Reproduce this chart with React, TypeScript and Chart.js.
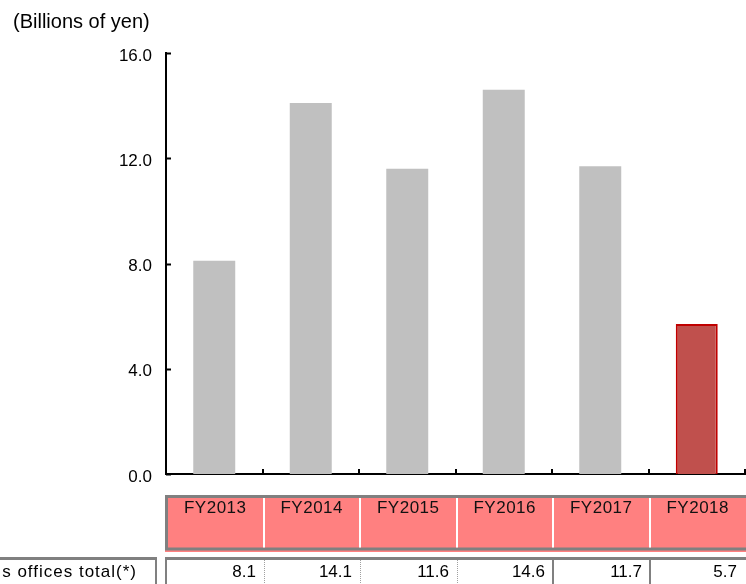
import React, { useEffect, useRef } from "react";
import { Chart, registerables } from "chart.js";

Chart.register(...registerables);

const categories = ["FY2013", "FY2014", "FY2015", "FY2016", "FY2017", "FY2018"];
const values = [8.1, 14.1, 11.6, 14.6, 11.7, 5.7];
const yMin = 0;
const yMax = 16;
const yStep = 4;
const unitLabel = "(Billions of yen)";
const rowLabel = "s offices total(*)";
const highlightIndex = 5;

const FONT = "'Liberation Sans', Arial, sans-serif";
const GREY = "#808080";
const PINK = "#FF8080";

const tablePlugin = {
  id: "tablePlugin",
  afterDraw(chart: any) {
    const { ctx } = chart;
    const x = chart.scales.x;
    const y = chart.scales.y;
    const n = categories.length;
    const w = x.getPixelForTick(1) - x.getPixelForTick(0);
    const bound = (i: number) => x.getPixelForTick(i) + w / 2;
    const W = chart.width;
    const left = x.left - 1;

    ctx.save();

    // unit title
    ctx.fillStyle = "#000";
    ctx.font = `20px ${FONT}`;
    ctx.textAlign = "left";
    ctx.textBaseline = "middle";
    ctx.fillText(unitLabel, 13, 22);

    // inner ticks
    ctx.strokeStyle = "#000";
    ctx.lineWidth = 2;
    y.ticks.forEach((t: any) => {
      const py = Math.round(y.getPixelForValue(t.value)) + 0.5;
      ctx.beginPath();
      ctx.moveTo(x.left, py);
      ctx.lineTo(x.left + 5, py);
      ctx.stroke();
    });
    for (let i = 0; i < n; i++) {
      const px = Math.round(bound(i));
      ctx.beginPath();
      ctx.moveTo(px, y.bottom);
      ctx.lineTo(px, y.bottom - 5);
      ctx.stroke();
    }

    // header row
    const hTop = 495;
    const hBot = 552;
    ctx.fillStyle = PINK;
    ctx.fillRect(left, hTop, W - left, hBot - hTop);
    ctx.strokeStyle = GREY;
    ctx.lineWidth = 3;
    ctx.beginPath();
    ctx.moveTo(left, hTop + 1.5);
    ctx.lineTo(W, hTop + 1.5);
    ctx.stroke();
    ctx.beginPath();
    ctx.moveTo(left, 549);
    ctx.lineTo(W, 549);
    ctx.stroke();
    ctx.beginPath();
    ctx.moveTo(left + 1.5, hTop);
    ctx.lineTo(left + 1.5, 550);
    ctx.stroke();
    ctx.strokeStyle = "#fff";
    ctx.lineWidth = 2;
    for (let i = 0; i < n - 1; i++) {
      const px = Math.round(bound(i)) + 1;
      ctx.beginPath();
      ctx.moveTo(px, hTop + 3);
      ctx.lineTo(px, 547.5);
      ctx.stroke();
    }
    ctx.fillStyle = "#111";
    ctx.font = `17px ${FONT}`;
    ctx.textAlign = "center";
    ctx.textBaseline = "middle";
    try { (ctx as any).letterSpacing = "0.5px"; } catch (e) {}
    categories.forEach((c, i) => {
      ctx.fillText(c, x.getPixelForTick(i) + 1, 508);
    });

    // data row
    const dTop = 557;
    ctx.strokeStyle = GREY;
    ctx.lineWidth = 3;
    ctx.beginPath();
    ctx.moveTo(left, dTop + 1.5);
    ctx.lineTo(W, dTop + 1.5);
    ctx.stroke();
    ctx.beginPath();
    ctx.moveTo(0, dTop + 1.5);
    ctx.lineTo(157, dTop + 1.5);
    ctx.stroke();
    ctx.lineWidth = 2;
    ctx.beginPath();
    ctx.moveTo(left + 1, dTop);
    ctx.lineTo(left + 1, chart.height);
    ctx.stroke();
    ctx.beginPath();
    ctx.moveTo(156, dTop);
    ctx.lineTo(156, chart.height);
    ctx.stroke();

    for (let i = 0; i < n - 1; i++) {
      const px = Math.round(bound(i)) + 1;
      ctx.beginPath();
      if (i < 3) {
        ctx.strokeStyle = "#A0A0A0";
        ctx.lineWidth = 1;
        ctx.setLineDash([1, 1]);
        ctx.moveTo(px + 0.5, dTop + 3);
        ctx.lineTo(px + 0.5, chart.height);
      } else {
        ctx.strokeStyle = GREY;
        ctx.lineWidth = 2;
        ctx.setLineDash([]);
        ctx.moveTo(px, dTop + 3);
        ctx.lineTo(px, chart.height);
      }
      ctx.stroke();
    }
    ctx.setLineDash([]);

    ctx.fillStyle = "#000";
    ctx.textBaseline = "middle";
    ctx.textAlign = "right";
    try { (ctx as any).letterSpacing = "1px"; } catch (e) {}
    ctx.fillText(rowLabel, 137, 572);
    try { (ctx as any).letterSpacing = "0px"; } catch (e) {}
    values.forEach((v, i) => {
      const r = i < n - 1 ? Math.round(bound(i)) - 7 : W - 9;
      ctx.fillText(v.toFixed(1), r, 572);
    });

    ctx.restore();
  },
};

export default function App() {
  const ref = useRef<HTMLCanvasElement>(null);

  useEffect(() => {
    if (!ref.current) return;
    const chart = new Chart(ref.current, {
      type: "bar",
      data: {
        labels: categories,
        datasets: [
          {
            data: values,
            backgroundColor: values.map((_, i) => (i === highlightIndex ? "#C0504D" : "#C0C0C0")),
            borderColor: values.map((_, i) => (i === highlightIndex ? "#C00000" : "rgba(0,0,0,0)")),
            borderWidth: values.map((_, i) => (i === highlightIndex ? 2 : 0)),
            barPercentage: 0.435,
            categoryPercentage: 1,
          },
        ],
      },
      options: {
        responsive: false,
        animation: false,
        layout: { padding: { top: 53, right: 1, left: 0, bottom: 0 } },
        plugins: { legend: { display: false }, tooltip: { enabled: false }, title: { display: false } },
        scales: {
          x: {
            type: "category",
            offset: true,
            grid: { display: false, drawTicks: false },
            border: { display: true, color: "#000", width: 2 },
            ticks: { display: false },
            afterFit: (s: any) => {
              s.height = 110;
            },
          },
          y: {
            min: yMin,
            max: yMax,
            grid: { display: false, drawTicks: false },
            border: { display: true, color: "#000", width: 2 },
            ticks: {
              stepSize: yStep,
              padding: 14,
              labelOffset: 3,
              color: "#000",
              font: { family: FONT, size: 17 },
              callback: (v: any) => Number(v).toFixed(1),
            },
            afterFit: (s: any) => {
              s.width = 166;
            },
          },
        },
      },
      plugins: [tablePlugin],
    });
    return () => chart.destroy();
  }, []);

  return (
    <div style={{ position: "absolute", left: 0, top: 0, width: 746, height: 584, overflow: "hidden", background: "#fff" }}>
      <canvas ref={ref} width={746} height={584} style={{ display: "block" }} />
    </div>
  );
}
